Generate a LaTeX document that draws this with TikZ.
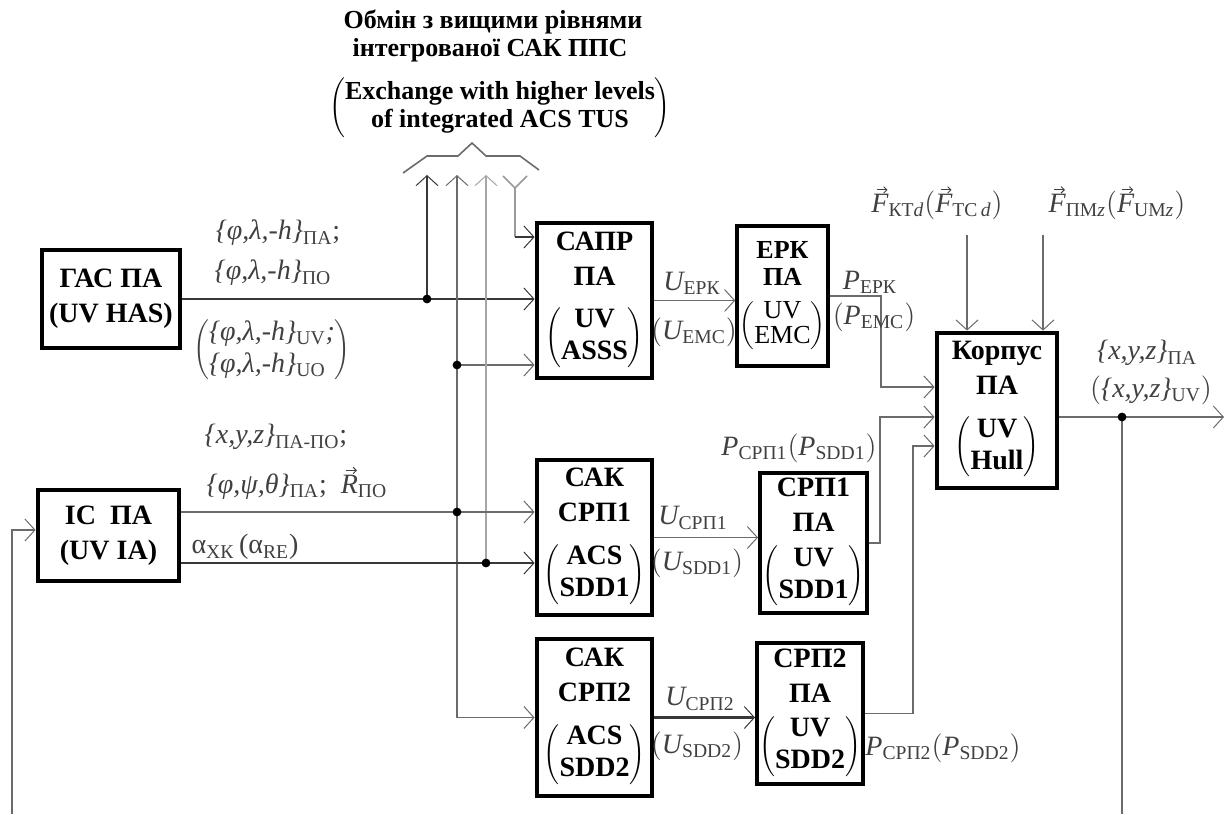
\documentclass[tikz,border=0pt]{standalone}
\usepackage{fontspec}
\setmainfont{Liberation Serif}
\usetikzlibrary{arrows.meta}
\newcommand\pgrp[2]{$\left(\mbox{\def\arraystretch{0.92}\begin{tabular}{@{}c@{}}#1\\#2\end{tabular}}\right)$}
\newcommand\vv[1]{\tikz[baseline=(vvbase.base)]{\node[inner sep=0pt, outer sep=0pt, draw=none] (vvbase) {#1};
  \draw[line width=0.45pt, -{Straight Barb[length=1.6pt,width=3.2pt,line width=0.45pt]}]
    ([xshift=-1.6pt,yshift=2.2pt]vvbase.north) -- ++(5.4pt,0pt);}}
\newcommand\sbs[1]{\textsubscript{\upshape #1}}
\begin{document}
\begin{tikzpicture}[x=0.5pt,y=-0.5pt,
  >={Straight Barb[length=5pt,width=11pt,line width=0.5pt]},
  box/.style={draw, line width=2.4pt, inner sep=0pt, align=center,
    font=\bfseries\fontsize{14}{17.5}\selectfont},
  conn/.style={draw=black!58, line width=0.8pt},
  conndark/.style={draw=black!78, line width=1.1pt},
  toptext/.style={inner sep=0pt, align=center, font=\bfseries\fontsize{13}{15}\selectfont},
  lbl/.style={inner sep=0pt, text=black!75, font=\itshape\fontsize{14}{16}\selectfont}]
\useasboundingbox (0,0) rectangle (1230,814);

% top text
\node[toptext] (tua1) at (493,22) {Обмін з вищими рівнями};
\node[toptext] (tua2) at (490,50) {інтегрованої САК ППС};
\node[toptext] (ten) at (500,108) {\pgrp{Exchange with higher levels}{of integrated ACS TUS}};
\draw[conn] (403,173) -- (427,156) -- (458,156) -- (472,143) -- (486,156) -- (520,156) -- (539,170);

% boxes
\node[box, minimum width=69pt, minimum height=49pt] (gas) at (111,299) {ГАС ПА\\(UV HAS)};
\node[box, minimum width=70.5pt, minimum height=45.5pt] (ic) at (108.5,535.5) {IC\enspace ПА\\(UV IA)};
\node[box, minimum width=57.5pt, minimum height=77.5pt] (sapr) at (594.5,300.5) {САПР\\ПА\\[9pt]\pgrp{UV}{ASSS}};
\node[box, line width=1.8pt, minimum width=45.5pt, minimum height=70pt,
  font=\bfseries\fontsize{13}{13.5}\selectfont] (erk) at (782.5,296) {ЕРК\\ПА\\[7pt]{\mdseries\pgrp{UV}{EMC}}};
\node[box, minimum width=60pt, minimum height=77.5pt] (korp) at (997,410.5) {Корпус\\ПА\\[9pt]\pgrp{UV}{Hull}};
\node[box, minimum width=57.5pt, minimum height=77.5pt] (sak1) at (594.5,537.5) {САК\\СРП1\\[9pt]\pgrp{ACS}{SDD1}};
\node[box, line width=2pt, minimum width=53.5pt, minimum height=70pt] (srp1) at (813.5,543) {СРП1\\ПА\\[5pt]\pgrp{UV}{SDD1}};
\node[box, minimum width=57.5pt, minimum height=78.5pt] (sak2) at (594.5,717.5) {САК\\СРП2\\[9pt]\pgrp{ACS}{SDD2}};
\node[box, line width=2pt, minimum width=53pt, minimum height=70.5pt] (srp2) at (810,713.5) {СРП2\\ПА\\[5pt]\pgrp{UV}{SDD2}};

% coordinates
\coordinate (t1) at (427,175);
\coordinate (t2) at (457,175);
\coordinate (t3) at (486,175);
\coordinate (t4) at (515,188);
\coordinate (c4) at (515,237);
\coordinate (j1) at (427,299);
\coordinate (j2) at (457,365);
\coordinate (j3) at (457,512);
\coordinate (j4) at (486,563);
\coordinate (fb0) at (12,814);
\coordinate (fb1) at (12,530);
\coordinate (e1) at (881,387);
\coordinate (e2) at (880,417);
\coordinate (e3) at (913,446);
\coordinate (f1) at (967,235);
\coordinate (f2) at (1043,235);
\coordinate (o1) at (1122,417);
\coordinate (o2) at (1224,417);
\coordinate (o3) at (1122,814);

% connectors
\draw[conndark,->] (gas.east) -- (gas.east -| sapr.west);
\draw[conndark,<-] (t1) -- (j1);
\draw[conn,<->] (t2) |- (sak2.west);
\draw[conn,->] (j2) -- (j2 -| sapr.west);
\draw[conn,draw=black!35,<-] (t3) -- (j4);
\draw[conn,draw=black!40] ([shift={(-12,-12)}]t4) -- (t4) -- ([shift={(12,-12)}]t4);
\draw[conn,draw=black!40] (t4) -- (c4);
\draw[conndark,->] (c4) -- (c4 -| sapr.west);
\draw[conn,->] (ic.east |- j3) -- (j3 -| sak1.west);
\draw[conndark,->] (ic.east |- j4) -- (j4 -| sak1.west);
\draw[conn,->] (fb0) -- (fb1) -- (fb1 -| ic.west);
\draw[conn,->] (sapr.east) -- (sapr.east -| erk.west);
\draw[conn,->] (erk.east) -| (e1) -- (e1 -| korp.west);
\draw[conn,->] (sak1.east) -- (sak1.east -| srp1.west);
\draw[conn,->] (srp1.east) -| (e2) -- (e2 -| korp.west);
\draw[conndark,->] (sak2.east) -- (sak2.east -| srp2.west);
\draw[conn,->] (srp2.east) -| (e3) -- (e3 -| korp.west);
\draw[conn,->] (f1) -- (f1 |- korp.north);
\draw[conn,->] (f2) -- (f2 |- korp.north);
\draw[conn,->] (o1 -| korp.east) -- (o2);
\draw[conn] (o1) -- (o3);

\foreach \p in {j1,j2,j3,j4,o1} \fill (\p) circle (2.2pt);

% labels
\node[lbl] (l1) at (278,233) {\{φ,λ,-h\}\sbs{ПА}\upshape;};
\node[lbl] (l2) at (273,273) {\{φ,λ,-h\}\sbs{ПО}};
\node[lbl] (l3) at (272,350) {$\left(\mbox{\begin{tabular}{@{}l@{}}\{φ,λ,-h\}\sbs{UV};\\\{φ,λ,-h\}\sbs{UO}\end{tabular}}\right)$};
\node[lbl] (l4) at (276,437) {\{x,y,z\}\sbs{ПА-ПО}\upshape;};
\node[lbl] (l5) at (297,483) {\{φ,ψ,θ\}\sbs{ПА}\upshape;\enspace\itshape\vv{R}\sbs{ПО}};
\node[lbl, font=\upshape\fontsize{14}{16}\selectfont] (l6) at (245,547) {α\sbs{ХК}\,(α\sbs{RE})};
\node[lbl] (l7) at (692,283) {U\sbs{ЕРК}};
\node[lbl] (l8) at (694,332) {$\big($U\sbs{EMC}$\big)$};
\node[lbl] (l9) at (870,282) {P\sbs{ЕРК}};
\node[lbl] (l10) at (874,317) {$\big($P\sbs{EMC}$\big)$};
\node[lbl] (l11) at (937,203) {\vv{F}\sbs{КТ\textit{d}}$\big($\vv{F}\sbs{TC\,\textit{d}}$\big)$};
\node[lbl] (l12) at (1117,203) {\vv{F}\sbs{ПМ\textit{z}}$\big($\vv{F}\sbs{UM\textit{z}}$\big)$};
\node[lbl] (l13) at (1147,353) {\{x,y,z\}\sbs{ПА}};
\node[lbl] (l14) at (1151,390) {$\big($\{x,y,z\}\sbs{UV}$\big)$};
\node[lbl] (l15) at (693,518) {U\sbs{СРП1}};
\node[lbl] (l16) at (697,563) {$\big($U\sbs{SDD1}$\big)$};
\node[lbl] (l17) at (799,448) {P\sbs{СРП1}$\big($P\sbs{SDD1}$\big)$};
\node[lbl] (l18) at (700,699) {U\sbs{СРП2}};
\node[lbl] (l19) at (697,746) {$\big($U\sbs{SDD2}$\big)$};
\node[lbl] (l20) at (943,748) {P\sbs{СРП2}$\big($P\sbs{SDD2}$\big)$};
\end{tikzpicture}
\end{document}
